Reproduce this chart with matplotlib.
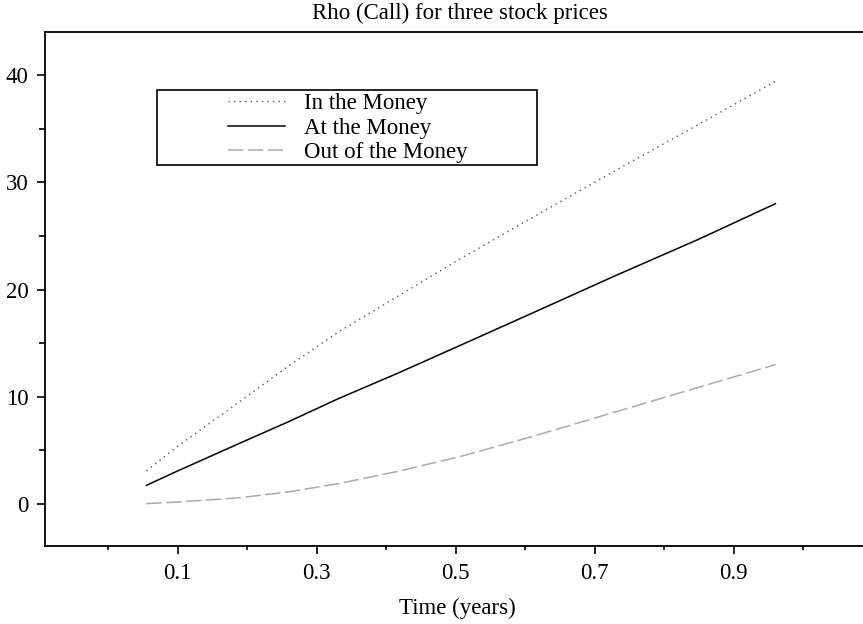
import numpy as np
import matplotlib
matplotlib.use("Agg")
import matplotlib.pyplot as plt
from matplotlib.patches import Rectangle
from matplotlib.ticker import MultipleLocator, FixedLocator

plt.rcParams['font.family'] = ['Liberation Serif', 'DejaVu Serif']

# values
time_years = [0.055, 0.10, 0.19, 0.26, 0.33, 0.42, 0.51, 0.61, 0.73, 0.85, 0.96]
rho_itm = [3.1, 5.4, 9.6, 12.9, 16.0, 19.5, 23.0, 26.7, 31.1, 35.4, 39.4]
rho_atm = [1.75, 3.1, 5.7, 7.7, 9.8, 12.3, 14.9, 17.8, 21.3, 24.7, 28.0]
rho_otm = [0.05, 0.2, 0.6, 1.15, 1.9, 3.1, 4.5, 6.3, 8.6, 10.9, 13.0]
labels = ["In the Money", "At the Money", "Out of the Money"]

W, H = 863, 624
fig = plt.figure(figsize=(W / 100, H / 100), dpi=100)
ax = fig.add_axes([45 / W, 1 - 546 / H, 1 - 45 / W, (546 - 32) / H])

l1, = ax.plot(time_years, rho_itm, color="#555555", lw=1.0, ls=(0, (1, 3)))
l2, = ax.plot(time_years, rho_atm, color="black", lw=1.1)
l3, = ax.plot(time_years, rho_otm, color="#aaaaaa", lw=1.1, ls=(0, (10, 3)))

ax.set_xlim(-0.091, 1.086)
ax.set_ylim(-3.9, 44)
ax.spines['right'].set_visible(False)
for s in ['left', 'top', 'bottom']:
    ax.spines[s].set_linewidth(1.3)

ax.xaxis.set_major_locator(FixedLocator([0.1, 0.3, 0.5, 0.7, 0.9]))
ax.xaxis.set_minor_locator(FixedLocator([0.0, 0.2, 0.4, 0.6, 0.8, 1.0]))
ax.yaxis.set_major_locator(MultipleLocator(10))
ax.yaxis.set_minor_locator(MultipleLocator(5))
ax.set_xticklabels(["0.1", "0.3", "0.5", "0.7", "0.9"])
ax.tick_params(which='major', length=6, width=1.2, labelsize=16.5, pad=6)
ax.tick_params(axis='x', which='minor', length=3, width=1.2)
ax.tick_params(axis='y', which='minor', length=4, width=1.2)

fig.text(460 / W, 1 - 13 / H, "Rho (Call) for three stock prices", ha='center', va='center', fontsize=16.5)
fig.text(457 / W, 1 - 608 / H, "Time (years)", ha='center', va='center', fontsize=16.5)

fig.legend([l1, l2, l3], labels, loc='upper left', bbox_to_anchor=(212 / W, 1 - 77 / H),
           frameon=False, fontsize=16.5, handlelength=2.5, handletextpad=0.8,
           labelspacing=0.15, borderpad=0.2)
fig.patches.append(Rectangle((157 / W, 1 - 165 / H), (537 - 157) / W, 75 / H,
                             transform=fig.transFigure, fill=False, lw=1.2, ec='black'))

fig.savefig("out.png", dpi=100)
